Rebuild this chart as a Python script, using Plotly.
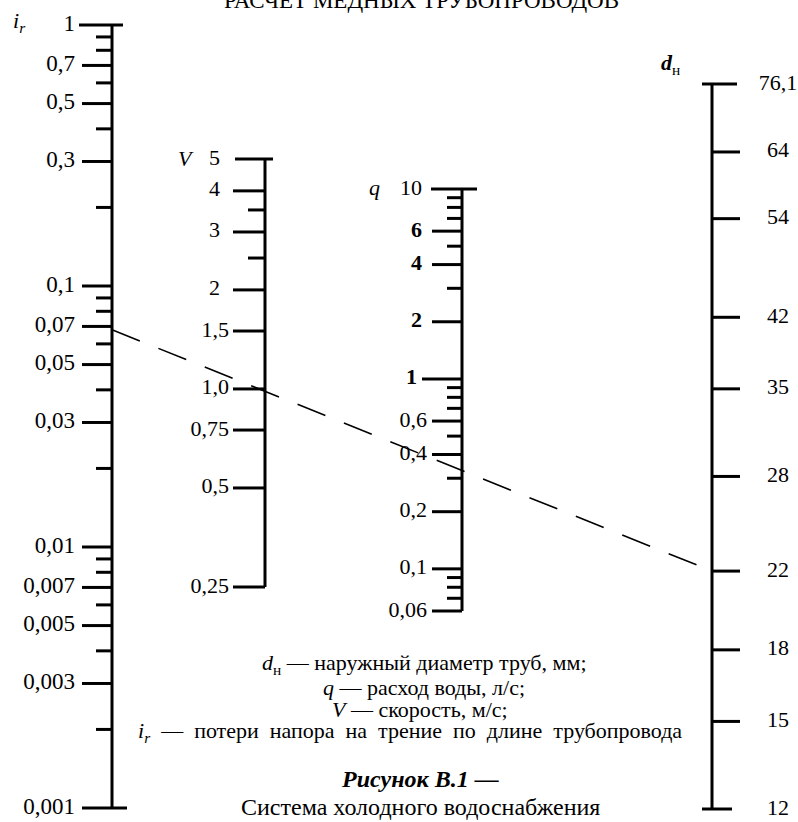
import math
import plotly.graph_objects as go

W, H = 798, 822

# ---------------- data ----------------
ir_major = [1, 0.7, 0.5, 0.3, 0.1, 0.07, 0.05, 0.03, 0.01, 0.007, 0.005, 0.003, 0.001]
ir_major_labels = ["1", "0,7", "0,5", "0,3", "0,1", "0,07", "0,05", "0,03",
                   "0,01", "0,007", "0,005", "0,003", "0,001"]
ir_minor = [0.9, 0.8, 0.6, 0.4, 0.2, 0.09, 0.08, 0.06, 0.04, 0.02,
            0.009, 0.008, 0.006, 0.004, 0.002]

v_major_int = [5, 4, 3, 2]
v_major_int_labels = ["5", "4", "3", "2"]
v_major_dec = [1.5, 1.0, 0.75, 0.5, 0.25]
v_major_dec_labels = ["1,5", "1,0", "0,75", "0,5", "0,25"]
v_minor = [3.5, 2.5]

q_major_int = [10, 6, 4, 2]
q_major_int_labels = ["10", "<b>6</b>", "<b>4</b>", "<b>2</b>"]
q_one = [1]
q_one_label = ["<b>1</b>"]
q_major_dec = [0.6, 0.4, 0.2, 0.1, 0.06]
q_major_dec_labels = ["0,6", "0,4", "0,2", "0,1", "0,06"]
q_minor = [9, 8, 7, 5, 3, 0.9, 0.8, 0.7, 0.5, 0.3, 0.09, 0.08, 0.07]

d_major = [76.1, 64, 54, 42, 35, 28, 22, 18, 15, 12]
d_major_labels = ["76,1", "64", "54", "42", "35", "28", "22", "18", "15", "12"]

key_ir = 0.068   # example reading: i_r
key_d = 22       # example reading: d_н

NB = "\u00a0"
legend_lines = [
    "<i>d</i><sub>н</sub> — наружный диаметр труб, мм;",
    "<i>q</i> — расход воды, л/с;",
    "<i>V</i> — скорость, м/с;",
    ("<i>i</i><sub><i>r</i></sub> — потери напора на трение по длине трубопровода"
     ).replace(" ", " " + NB),
]
caption_title = "<b><i>Рисунок В.1 —</i></b>"
caption_text = "Система холодного водоснабжения"
top_title = "РАСЧЕТ МЕДНЫХ ТРУБОПРОВОДОВ"

# ---------------- layout of the scales (positions in px) ----------------
FONT = "Liberation Serif"
FS = 22
PAD = 8
scales = {
    "ir": dict(ax="y2", x=112, vtop=1, ptop=25, vbot=0.001, pbot=808),
    "v": dict(ax="y3", x=265, vtop=5, ptop=159, vbot=0.25, pbot=587),
    "q": dict(ax="y4", x=462, vtop=10, ptop=189, vbot=0.06, pbot=611),
    "d": dict(ax="y5", x=712, vtop=76.1, ptop=84, vbot=12, pbot=809),
}


def axis_cfg(s):
    lt, lb = math.log10(s["vtop"]), math.log10(s["vbot"])
    k = (s["pbot"] - s["ptop"]) / (lt - lb)
    s["k"] = k
    return dict(type="log", range=[lb - PAD / k, lt + PAD / k],
                domain=[1 - (s["pbot"] + PAD) / H, 1 - (s["ptop"] - PAD) / H],
                visible=False, anchor="x", fixedrange=True)


def px_of(s, v):
    return s["ptop"] + (math.log10(s["vtop"]) - math.log10(v)) * s["k"]


def val_of(s, p):
    return 10 ** (math.log10(s["vtop"]) - (p - s["ptop"]) / s["k"])


fig = go.Figure()
layout_axes = {}
for name, s in scales.items():
    layout_axes["yaxis" + s["ax"][1:]] = axis_cfg(s)


def seg_trace(s, values, x0, x1, width=3):
    xs, ys = [], []
    for v in values:
        xs += [x0, x1, None]
        ys += [v, v, None]
    return go.Scatter(x=xs, y=ys, xaxis="x", yaxis=s["ax"], mode="lines",
                      line=dict(color="black", width=width),
                      hoverinfo="skip", showlegend=False)


def spine_trace(s, vtop, vbot, width=3):
    return go.Scatter(x=[s["x"], s["x"]], y=[vtop, vbot], xaxis="x", yaxis=s["ax"],
                      mode="lines", line=dict(color="black", width=width),
                      hoverinfo="skip", showlegend=False)


def label_trace(s, values, labels, x, pos, size=FS):
    return go.Scatter(x=[x] * len(values), y=values, xaxis="x", yaxis=s["ax"],
                      mode="text", text=labels, textposition=pos,
                      textfont=dict(family=FONT, size=size, color="black"),
                      cliponaxis=False, hoverinfo="skip", showlegend=False)


# ---- i_r scale ----
s = scales["ir"]
X = s["x"]
fig.add_trace(spine_trace(s, ir_major[0], ir_major[-1]))
fig.add_trace(seg_trace(s, ir_major[1:-1], X - 30, X))
fig.add_trace(seg_trace(s, [ir_major[0]], X - 33, X + 11))
fig.add_trace(seg_trace(s, [ir_major[-1]], X - 30, X + 15))
fig.add_trace(seg_trace(s, ir_minor, X - 16, X))
fig.add_trace(label_trace(s, ir_major, ir_major_labels, X - 37, "middle left", 23))

# ---- V scale ----
s = scales["v"]
X = s["x"]
fig.add_trace(spine_trace(s, v_major_int[0], v_major_dec[-1]))
fig.add_trace(seg_trace(s, v_major_int[1:] + v_major_dec, X - 32, X))
fig.add_trace(seg_trace(s, [v_major_int[0]], X - 30, X + 8))
fig.add_trace(seg_trace(s, v_minor, X - 17, X))
fig.add_trace(label_trace(s, v_major_int, v_major_int_labels, X - 45, "middle left"))
fig.add_trace(label_trace(s, v_major_dec, v_major_dec_labels, X - 36, "middle left"))

# ---- q scale ----
s = scales["q"]
X = s["x"]
fig.add_trace(spine_trace(s, q_major_int[0], q_major_dec[-1]))
fig.add_trace(seg_trace(s, q_major_int[1:] + q_major_dec, X - 30, X))
fig.add_trace(seg_trace(s, q_one, X - 40, X))
fig.add_trace(seg_trace(s, [q_major_int[0]], X - 31, X + 15))
fig.add_trace(seg_trace(s, q_minor, X - 15, X))
fig.add_trace(label_trace(s, q_major_int, q_major_int_labels, X - 40, "middle left"))
fig.add_trace(label_trace(s, q_one, q_one_label, X - 45, "middle left"))
fig.add_trace(label_trace(s, q_major_dec, q_major_dec_labels, X - 35, "middle left"))

# ---- d scale ----
s = scales["d"]
X = s["x"]
fig.add_trace(spine_trace(s, d_major[0], d_major[-1]))
fig.add_trace(seg_trace(s, d_major[1:-1], X, X + 28))
fig.add_trace(seg_trace(s, [d_major[0]], X - 10, X + 25))
fig.add_trace(seg_trace(s, [d_major[-1]], X - 10, X + 20))
fig.add_trace(label_trace(s, d_major, d_major_labels, X + 66, "middle center"))

# ---- key (dashed) line from i_r to d_н, drawn on the i_r scale ----
s_ir, s_d = scales["ir"], scales["d"]
end_val = val_of(s_ir, px_of(s_d, key_d))
fig.add_trace(go.Scatter(x=[s_ir["x"], s_d["x"]], y=[key_ir, end_val],
                         xaxis="x", yaxis=s_ir["ax"], mode="lines",
                         line=dict(color="black", width=1.6, dash="30px,20px"),
                         hoverinfo="skip", showlegend=False))

# ---------------- annotations ----------------
ann = []


def add_text(text, x, py, size=FS, xanchor="center", **kw):
    ann.append(dict(text=text, x=x, xref="x", y=1 - py / H, yref="paper",
                    xanchor=xanchor, yanchor="middle", showarrow=False,
                    font=dict(family=FONT, size=size, color="black"), **kw))


add_text("<i>i</i><sub><i>r</i></sub>", 19, 22, 22)
add_text("<i>V</i>", 186, 158, 22)
add_text("<i>q</i>", 374, 188, 22)
add_text("<b><i>d</i></b><sub>н</sub>", 670, 64, 22)

legend_y = [664, 687, 709, 732]
legend_x = [424, 424, 420, 410]
for line, lx, py in zip(legend_lines, legend_x, legend_y):
    add_text(line, lx, py, FS)
add_text(caption_title, 420, 779, 24)
add_text(caption_text, 420, 807, 24)
add_text(top_title, 421, 0, 23)

fig.update_layout(
    width=W, height=H,
    margin=dict(l=0, r=0, t=0, b=0),
    paper_bgcolor="white", plot_bgcolor="rgba(0,0,0,0)",
    xaxis=dict(range=[0, W], domain=[0, 1], visible=False, fixedrange=True),
    yaxis=dict(range=[0, 1], domain=[0, 1], visible=False, fixedrange=True),
    annotations=ann,
    showlegend=False,
    **layout_axes,
)

fig.write_html("out.html", config={"displayModeBar": False},
               post_script="document.body.style.margin='0';")
